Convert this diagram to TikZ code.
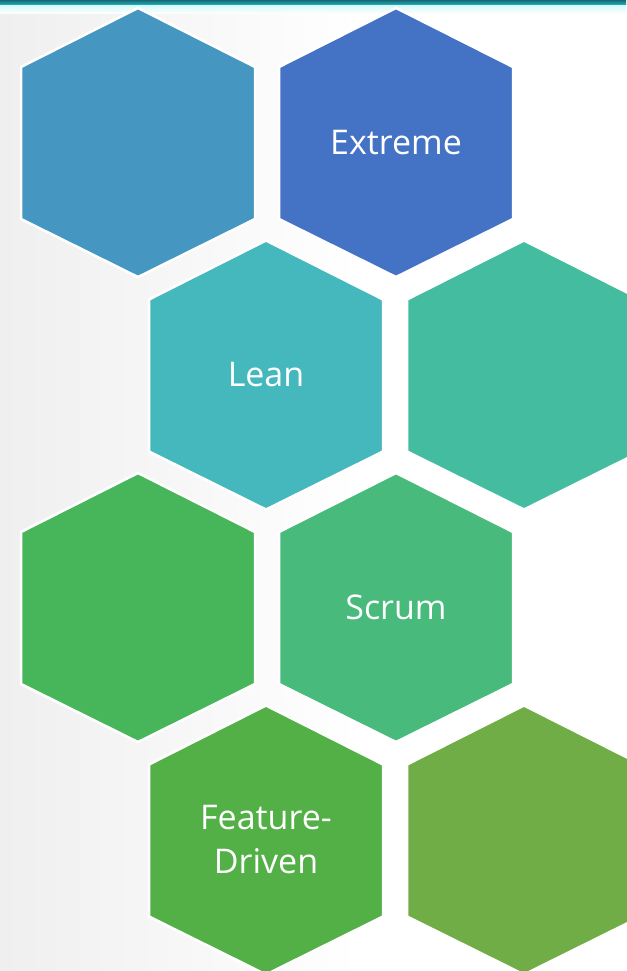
\documentclass[tikz,border=0pt]{standalone}
\usepackage{fontspec}
\setmainfont{Open Sans}
\usetikzlibrary{calc}
\definecolor{hA}{HTML}{4596C0}
\definecolor{hB}{HTML}{4472C4}
\definecolor{hC}{HTML}{45B8BE}
\definecolor{hD}{HTML}{44BCA0}
\definecolor{hE}{HTML}{47B55A}
\definecolor{hF}{HTML}{47BA7C}
\definecolor{hG}{HTML}{53B046}
\definecolor{hH}{HTML}{70AD47}
\definecolor{bgL}{HTML}{EFEFF0}
\definecolor{barD}{HTML}{23808F}
\definecolor{barL}{HTML}{D2F6F8}
\tikzset{
  hexfill/.style={draw=white, line width=2.5pt, line join=miter},
  hexlabel/.style={text=white, font=\fontsize{34}{44}\selectfont, align=center, inner sep=0pt}
}
\newcommand{\hexat}[4]{%
  \path[hexfill, fill=#3] (#1,#2) -- ++(117,59) -- ++(0,152) -- ++(-117,58) -- ++(-117,-58) -- ++(0,-152) -- cycle;
  \coordinate (#4) at (#1,#2+134.5);
}
\begin{document}
\begin{tikzpicture}[x=1pt,y=-1pt]
\useasboundingbox (0,0) rectangle (626,971);
\shade[left color=bgL, right color=white] (0,0) rectangle (360,971);
\fill[white] (360,0) rectangle (626,971);
\shade[top color=barL, bottom color=white] (0,4) rectangle (626,14);
\shade[top color=barD!80!black, bottom color=barD!60!cyan] (0,0) rectangle (626,4.5);
\hexat{138}{8}{hA}{c1}
\hexat{396}{8}{hB}{c2}
\hexat{266}{240.5}{hC}{c3}
\hexat{524}{240.5}{hD}{c4}
\hexat{138}{473}{hE}{c5}
\hexat{396}{473}{hF}{c6}
\hexat{266}{705.5}{hG}{c7}
\hexat{524}{705.5}{hH}{c8}
\node[hexlabel] (extreme) at (c2) {Extreme};
\node[hexlabel] (lean) at (c3) {Lean};
\node[hexlabel] (scrum) at (c6) {Scrum};
\node[hexlabel] (feature) at (c7) {Feature-\\Driven};
\end{tikzpicture}
\end{document}
